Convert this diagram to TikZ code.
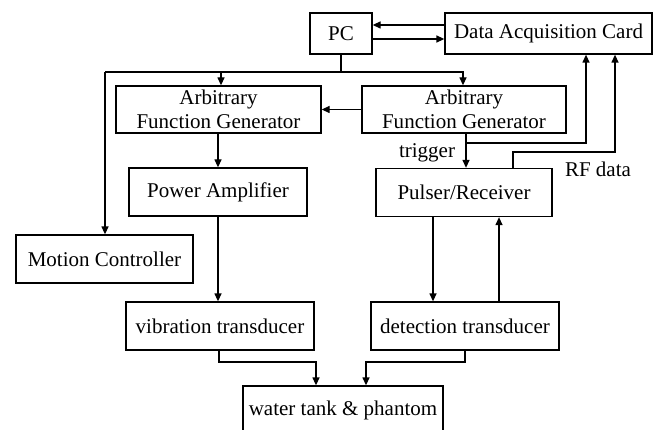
\documentclass[tikz,border=0pt]{standalone}
\usepackage{fontspec}
\setmainfont{Liberation Serif}
\usetikzlibrary{arrows.meta}
\begin{document}
\begin{tikzpicture}[x=1pt,y=-1pt,
  box/.style={draw,line width=1.3pt,inner sep=0pt,align=center,
    font=\fontsize{21}{24}\selectfont},
  conn/.style={line width=1.3pt},
  arr/.style={line width=1.3pt,-{Triangle[length=8pt,width=7pt]}},
  lbl/.style={inner sep=0pt,font=\fontsize{21}{24}\selectfont}]
\useasboundingbox (0,0) rectangle (668,430);
\clip (0,0) rectangle (668,430);
\node[box,minimum width=62,minimum height=41] (PC) at (341,33.5) {PC};
\node[box,minimum width=207,minimum height=41] (DAQ) at (548.5,33.5) {Data Acquisition Card};
\node[box,minimum width=205,minimum height=47] (AFG1) at (218.5,109.5) {Arbitrary\\Function Generator};
\node[box,minimum width=204,minimum height=47] (AFG2) at (464,109.5) {Arbitrary\\Function Generator};
\node[box,minimum width=178,minimum height=48] (PA) at (218,192) {Power Amplifier};
\node[box,minimum width=176,minimum height=48] (PR) at (464,192.5) {Pulser/Receiver};
\node[box,minimum width=177,minimum height=48] (MC) at (104.5,259) {Motion Controller};
\node[box,minimum width=188,minimum height=48] (VT) at (220,326) {vibration transducer};
\node[box,minimum width=188,minimum height=48] (DT) at (465,326) {detection transducer};
\node[box,minimum width=200,minimum height=48] (WT) at (343,410) {water tank \& phantom};
\node[lbl] (trig) at (427,153) {trigger};
\node[lbl] (rfd) at (598,169) {RF data};
\coordinate (busL) at (105,72);
\coordinate (busR) at (463,72);
\coordinate (tj) at (466,143);
\coordinate (daqA) at (586,143);
\coordinate (rfc) at (615,152);
\coordinate (vj) at (316,362);
\coordinate (dj) at (366,362);
% PC <-> DAQ
\draw[arr] ([yshift=8.5pt]DAQ.west) -- ([yshift=8.5pt]DAQ.west -| PC.east);
\draw[arr] ([yshift=-5.5pt]PC.east) -- ([yshift=-5.5pt]PC.east -| DAQ.west);
% PC bus
\draw[conn] (PC.south) -- (PC.south |- busL);
\draw[arr] (busL) -- (busR) -- (busR |- AFG2.north);
\draw[arr] (busL) -- (busL |- MC.north);
\draw[arr] ([xshift=2.5pt]AFG1.north |- busL) -- ([xshift=2.5pt]AFG1.north);
% AFG chain
\draw[arr] (AFG2.west) -- (AFG1.east);
\draw[arr] (AFG1.south -| PA.north) -- (PA.north);
\draw[arr] (PA.south) -- (PA.south |- VT.north);
% trigger
\draw[arr] ([xshift=2pt]AFG2.south) -- ([xshift=2pt]AFG2.south |- PR.north);
\draw[arr] (tj) -- (daqA) -- (daqA |- DAQ.south);
% RF data
\draw[arr] ([xshift=49pt]PR.north) |- (rfc) -- (rfc |- DAQ.south);
% Pulser <-> detection
\draw[arr] ([xshift=-31pt]PR.south) -- ([xshift=-31pt]PR.south |- DT.north);
\draw[arr] ([xshift=35pt]PR.south |- DT.north) -- ([xshift=35pt]PR.south);
% transducers -> tank
\draw[arr] ([xshift=-1pt]VT.south) |- (vj) -- (vj |- WT.north);
\draw[arr] (DT.south) |- (dj) -- (dj |- WT.north);
\end{tikzpicture}
\end{document}
